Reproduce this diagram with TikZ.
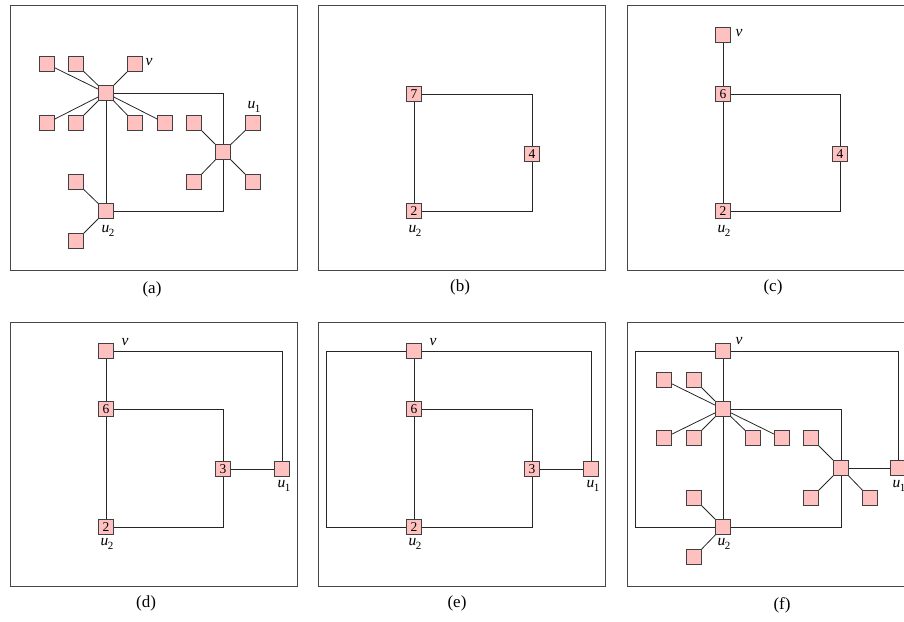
\documentclass[tikz,border=0pt]{standalone}
\usepackage{fontspec}
\setmainfont{Liberation Serif}
\definecolor{nodepink}{RGB}{255,192,192}
\definecolor{framegray}{RGB}{70,70,70}
\newcommand{\lab}[2]{\textit{#1}\kern-0.3pt\raisebox{-0.45ex}{\fontsize{11}{11}\selectfont #2}}
\tikzset{
  sq/.style={draw=black!75, fill=nodepink, minimum size=15pt, inner sep=0pt, line width=0.8pt, font=\fontsize{13.5}{13.5}\selectfont},
  edge/.style={draw=black!85, line width=0.8pt},
  frm/.style={draw=framegray, line width=0.9pt},
  lbl/.style={inner sep=0pt, font=\fontsize{15.5}{15.5}\selectfont},
  captxt/.style={inner sep=0pt, font=\fontsize{17}{17}\selectfont}
}
\begin{document}
\begin{tikzpicture}[x=1pt,y=-1pt]
\useasboundingbox (0,0) rectangle (904,621);
\clip (0,0) rectangle (904,621);
% ---------- (a)
\draw[frm] (10,5) rectangle (297,270);
\node[captxt] (capa) at (152,289) {(a)};
\node[sq] (ah) at (106,93) {};
\node[sq] (al1) at (47,64) {};
\node[sq] (al2) at (76,64) {};
\node[sq] (al3) at (135,64) {};
\node[sq] (al4) at (47,123) {};
\node[sq] (al5) at (76,123) {};
\node[sq] (al6) at (135,123) {};
\node[sq] (al7) at (165,123) {};
\node[sq] (au1) at (223,152) {};
\node[sq] (am1) at (194,123) {};
\node[sq] (am2) at (253,123) {};
\node[sq] (am3) at (194,182) {};
\node[sq] (am4) at (253,182) {};
\node[sq] (au2) at (106,211) {};
\node[sq] (an1) at (76,182) {};
\node[sq] (an2) at (76,241) {};
\node[lbl] (alv) at (149,62) {\textit{v}};
\node[lbl] (alu1) at (254,107) {\lab{u}{1}};
\node[lbl] (alu2) at (108,231) {\lab{u}{2}};
\foreach \l in {al1,al2,al3,al4,al5,al6,al7} \draw[edge] (ah) -- (\l);
\foreach \l in {am1,am2,am3,am4} \draw[edge] (au1) -- (\l);
\foreach \l in {an1,an2} \draw[edge] (au2) -- (\l);
\draw[edge] (ah) -- (au2);
\draw[edge] (ah) -| (au1);
\draw[edge] (au1) |- (au2);
% ---------- (b)
\draw[frm] (318,5) rectangle (605,270);
\node[captxt] (capb) at (460,287) {(b)};
\node[sq] (b7) at (414,94) {7};
\node[sq] (b4) at (532,154) {4};
\node[sq] (b2) at (414,211) {2};
\node[lbl] (blu2) at (415,231) {\lab{u}{2}};
\draw[edge] (b7) -- (b2);
\draw[edge] (b7) -| (b4);
\draw[edge] (b4) |- (b2);
% ---------- (c)
\draw[frm] (627,5) rectangle (914,270);
\node[captxt] (capc) at (773,287) {(c)};
\node[sq] (cv) at (723,35) {};
\node[sq] (c6) at (723,94) {6};
\node[sq] (c4) at (840,154) {4};
\node[sq] (c2) at (723,211) {2};
\node[lbl] (clv) at (739,33) {\textit{v}};
\node[lbl] (clu2) at (724,231) {\lab{u}{2}};
\draw[edge] (cv) -- (c6);
\draw[edge] (c6) -- (c2);
\draw[edge] (c6) -| (c4);
\draw[edge] (c4) |- (c2);
% ---------- (d)
\draw[frm] (10,322) rectangle (297,586);
\node[captxt] (capd) at (146,603) {(d)};
\node[sq] (dv) at (106,351) {};
\node[sq] (d6) at (106,409) {6};
\node[sq] (d3) at (223,469) {3};
\node[sq] (du1) at (282,469) {};
\node[sq] (d2) at (106,527) {2};
\node[lbl] (dlv) at (125,342) {\textit{v}};
\node[lbl] (dlu1) at (284,486) {\lab{u}{1}};
\node[lbl] (dlu2) at (107,544) {\lab{u}{2}};
\draw[edge] (dv) -| (du1);
\draw[edge] (dv) -- (d6);
\draw[edge] (d6) -- (d2);
\draw[edge] (d6) -| (d3);
\draw[edge] (d3) |- (d2);
\draw[edge] (d3) -- (du1);
% ---------- (e)
\draw[frm] (318,322) rectangle (605,586);
\node[captxt] (cape) at (457,603) {(e)};
\node[sq] (ev) at (414,351) {};
\node[sq] (e6) at (414,409) {6};
\node[sq] (e3) at (532,469) {3};
\node[sq] (eu1) at (591,469) {};
\node[sq] (e2) at (414,527) {2};
\coordinate (eL) at (326,351);
\node[lbl] (elv) at (433,342) {\textit{v}};
\node[lbl] (elu1) at (593,486) {\lab{u}{1}};
\node[lbl] (elu2) at (415,544) {\lab{u}{2}};
\draw[edge] (ev) -| (eu1);
\draw[edge] (ev) -- (e6);
\draw[edge] (e6) -- (e2);
\draw[edge] (e6) -| (e3);
\draw[edge] (e3) |- (e2);
\draw[edge] (e3) -- (eu1);
\draw[edge] (ev) -- (eL) |- (e2);
% ---------- (f)
\draw[frm] (627,322) rectangle (914,586);
\node[captxt] (capf) at (782,605) {(f)};
\node[sq] (fv) at (723,351) {};
\node[sq] (fh) at (723,409) {};
\node[sq] (fl1) at (664,380) {};
\node[sq] (fl2) at (694,380) {};
\node[sq] (fl3) at (664,438) {};
\node[sq] (fl4) at (694,438) {};
\node[sq] (fl5) at (753,438) {};
\node[sq] (fl6) at (782,438) {};
\node[sq] (fh2) at (841,468) {};
\node[sq] (fm1) at (811,438) {};
\node[sq] (fm2) at (811,498) {};
\node[sq] (fm3) at (870,498) {};
\node[sq] (fu1) at (898,468) {};
\node[sq] (fu2) at (723,527) {};
\node[sq] (fn1) at (694,498) {};
\node[sq] (fn2) at (694,557) {};
\coordinate (fL) at (635,351);
\node[lbl] (flv) at (739,341) {\textit{v}};
\node[lbl] (flu1) at (899,486) {\lab{u}{1}};
\node[lbl] (flu2) at (724,544) {\lab{u}{2}};
\foreach \l in {fl1,fl2,fl3,fl4,fl5,fl6} \draw[edge] (fh) -- (\l);
\foreach \l in {fm1,fm2,fm3} \draw[edge] (fh2) -- (\l);
\foreach \l in {fn1,fn2} \draw[edge] (fu2) -- (\l);
\draw[edge] (fv) -- (fh);
\draw[edge] (fh) -- (fu2);
\draw[edge] (fv) -| (fu1);
\draw[edge] (fv) -- (fL) |- (fu2);
\draw[edge] (fh) -| (fh2);
\draw[edge] (fh2) |- (fu2);
\draw[edge] (fh2) -- (fu1);
\end{tikzpicture}
\end{document}
